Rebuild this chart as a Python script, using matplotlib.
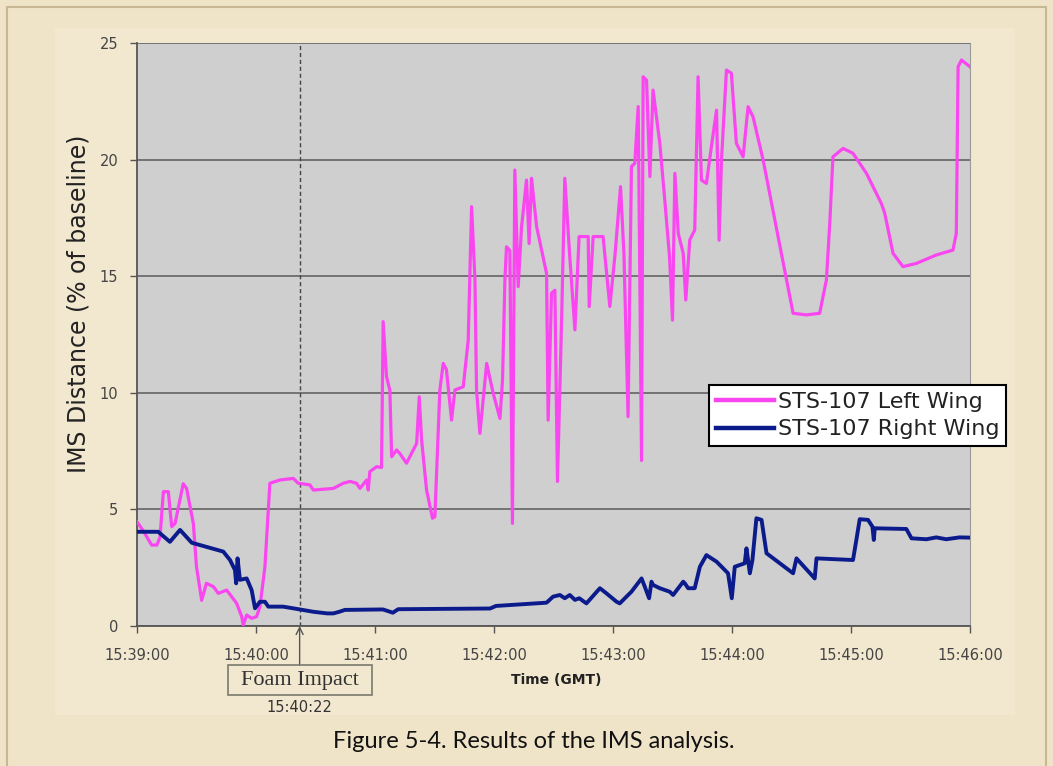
import matplotlib
matplotlib.use("Agg")
import matplotlib.pyplot as plt
from matplotlib.patches import Rectangle
import matplotlib.transforms as mtransforms

# ---------------- data (seconds after 15:39:00, % of baseline) ----------------
left_t = [0, 3, 7.4, 10, 11.6, 13.3, 15.8, 17.5, 19.2, 23.3, 25, 28.4, 30, 32.6, 35, 38.5,
          41, 45.2, 50.2, 52.8, 53.6, 55.3, 57.8, 60.3, 62, 64.5, 67, 72, 78.8, 81.3, 87.2,
          88.9, 99, 104, 107.4, 110.7, 112.4, 115.8, 116.6, 117.4, 120.8, 123.3, 124.1,
          125.8, 127.5, 128.4, 130.9, 132.5, 135.9, 141, 142.3, 143.5, 146, 149, 150.2,
          152.7, 154.4, 156, 158.6, 160.3, 164.5, 167, 168.7, 170.4, 171.2, 172.9, 176.3,
          179.6, 183, 184.3, 185.5, 186.3, 188, 189.3, 190.5, 192.2, 193.9, 196.4, 197.7,
          198.9, 201.5, 206.5, 207.3, 209, 210.7, 212, 214, 215.7, 218.2, 220.8, 222.9,
          227.5, 228, 230, 235, 238.4, 241, 243.8, 245.5, 247.6, 249.3, 251, 252.7, 254.4,
          255.2, 256.9, 258.6, 260.2, 263.6, 266.1, 268.5, 270, 271.2, 272.9, 275.4, 276.7,
          278.7, 281.2, 282.9, 284.6, 287.1, 289.6, 292.2, 293.5, 294.7, 297.2, 299.7,
          302.2, 305.6, 308.1, 310.6, 315.7, 330.8, 337.5, 344.2, 347.6, 349.3, 350.9, 356,
          361, 367.8, 375.3, 377, 381.2, 386.2, 393, 403, 411.4, 413.1, 414, 415.7, 420]
left_v = [4.47, 4.1, 3.47, 3.47, 3.8, 5.76, 5.76, 4.26, 4.4, 6.1, 5.9, 4.4, 2.54, 1.1, 1.83,
          1.69, 1.4, 1.54, 0.98, 0.4, 0.04, 0.47, 0.33, 0.4, 0.83, 2.54, 6.12, 6.26, 6.33,
          6.12, 6.05, 5.83, 5.9, 6.12, 6.2, 6.12, 5.9, 6.26, 5.83, 6.62, 6.83, 6.8, 13.05,
          10.7, 10.1, 7.26, 7.55, 7.4, 6.98, 7.83, 9.83, 7.98, 5.83, 4.62, 4.69, 10.12,
          11.26, 11.0, 8.83, 10.12, 10.26, 12.26, 17.98, 14.84, 10.12, 8.26, 11.26, 9.98,
          8.9, 10.55, 14.84, 16.26, 16.1, 4.4, 19.55, 14.55, 17.12, 19.12, 16.4, 19.2,
          17.12, 15.12, 8.83, 14.27, 14.4, 6.2, 12.8, 19.2, 15.84, 12.7, 16.7, 16.7, 13.7,
          16.7, 16.7, 13.7, 15.9, 18.84, 16.0, 8.98, 19.7, 19.84, 22.27, 7.1, 23.55, 23.41,
          19.27, 22.98, 20.7, 18.27, 15.84, 13.12, 19.41, 16.84, 15.98, 13.98, 16.55,
          16.98, 23.55, 19.12, 18.98, 20.55, 22.12, 16.55, 19.98, 23.84, 23.7, 20.7, 20.12,
          22.27, 21.84, 19.98, 13.41, 13.34, 13.41, 14.84, 17.27, 20.12, 20.48, 20.27,
          19.41, 18.12, 17.7, 15.98, 15.41, 15.55, 15.91, 16.12, 16.84, 23.98, 24.27, 23.98]

right_t = [0, 10.7, 16.6, 21.7, 27.6, 31.8, 43.5, 46.9, 49.4, 50, 50.7, 51.9, 55.3, 57.8,
           59.5, 62, 64.5, 66.2, 73.7, 82.1, 88.9, 96, 99, 102, 104.8, 124, 129, 131.7,
           178, 181, 206.5, 209.8, 213.2, 215.7, 218.2, 220.8, 223, 226.6, 233.4, 236.7,
           241.8, 243.4, 246.8, 249.3, 254.4, 256, 258.2, 259.4, 260.2, 263.6, 268.6,
           270.3, 275.4, 276.2, 277.9, 281.2, 283.8, 287.1, 292.2, 298, 299.9, 301.4,
           306.4, 307.3, 309, 310.3, 312.3, 314.9, 317.4, 330.8, 332.5, 341.7, 342.6, 361,
           362.7, 364.4, 368.6, 370.8, 371.5, 372, 387.9, 390.5, 398, 403, 408, 414.7, 420]
right_v = [4.04, 4.04, 3.61, 4.12, 3.57, 3.47, 3.19, 2.83, 2.4, 1.83, 2.9, 1.98, 2.04, 1.54,
           0.76, 1.04, 1.04, 0.83, 0.83, 0.71, 0.61, 0.54, 0.54, 0.61, 0.69, 0.71, 0.57,
           0.72, 0.75, 0.86, 1.0, 1.26, 1.33, 1.19, 1.33, 1.12, 1.19, 0.97, 1.62, 1.4, 1.04,
           0.97, 1.26, 1.47, 2.04, 1.69, 1.19, 1.9, 1.76, 1.62, 1.47, 1.33, 1.9, 1.83, 1.62,
           1.62, 2.54, 3.04, 2.76, 2.26, 1.19, 2.54, 2.69, 3.33, 2.26, 2.83, 4.62, 4.55,
           3.12, 2.26, 2.9, 2.04, 2.9, 2.83, 3.69, 4.58, 4.55, 4.26, 3.69, 4.19, 4.16, 3.76,
           3.72, 3.8, 3.72, 3.8, 3.79]

x_ticks = [0, 60, 120, 180, 240, 300, 360, 420]
x_tick_labels = ["15:39:00", "15:40:00", "15:41:00", "15:42:00",
                 "15:43:00", "15:44:00", "15:45:00", "15:46:00"]
y_ticks = [0, 5, 10, 15, 20, 25]
impact_t = 82
impact_name = "Foam Impact"
impact_label = "15:40:22"
series_names = ["STS-107 Left Wing", "STS-107 Right Wing"]

# ---------------- figure ----------------
W, H = 1053, 766
BG = "#F0E4C8"
fig = plt.figure(figsize=(W / 100, H / 100), dpi=100, facecolor=BG)

fig.patches.append(Rectangle((55 / W, 1 - 715 / H), (1015 - 55) / W, (715 - 28) / H,
                             transform=fig.transFigure, facecolor="#F2E7CF",
                             edgecolor="none", zorder=-2))
fig.patches.append(Rectangle((7 / W, -0.01), (1046 - 7) / W, (766 - 7) / H + 0.01,
                             transform=fig.transFigure, fill=False,
                             edgecolor="#C8B795", lw=1.5, zorder=-1))

ax = fig.add_axes([137 / W, 1 - 626 / H, (970 - 137) / W, (626 - 43) / H])
ax.set_facecolor("#CFCFCF")

ax.plot(left_t, left_v, color="#FA46F0", lw=2.3, label=series_names[0],
        solid_joinstyle="round", zorder=3)
ax.plot(right_t, right_v, color="#0B1B8C", lw=2.8, label=series_names[1],
        solid_joinstyle="round", zorder=4)

ax.set_xlim(x_ticks[0], x_ticks[-1])
ax.set_ylim(y_ticks[0], y_ticks[-1])
ax.set_xticks(x_ticks)
ax.set_xticklabels(x_tick_labels)
ax.set_yticks(y_ticks)

ax.yaxis.grid(True, color="#6C6C6C", lw=1.3)
ax.set_axisbelow(True)
ax.spines["top"].set_visible(False)
ax.spines["right"].set_color("#9A9A9A")
ax.spines["right"].set_linewidth(0.8)
for side in ["left", "bottom"]:
    ax.spines[side].set_color("#555555")
    ax.spines[side].set_linewidth(1.3)

ax.tick_params(axis="x", direction="out", length=5, width=1, color="#555555",
               pad=11, labelsize=10.5, labelcolor="#444444")
ax.tick_params(axis="y", direction="out", length=5, width=1, color="#555555",
               pad=8.5, labelsize=10.5, labelcolor="#444444")

# foam impact marker
ax.axvline(impact_t, color="#444444", lw=1, ls=(0, (3, 2)), zorder=2)
trans = mtransforms.blended_transform_factory(ax.transData, ax.transAxes)
ax.annotate("", xy=(impact_t, 0), xycoords=trans,
            xytext=(impact_t, -(665 - 626) / 583), textcoords=trans,
            arrowprops=dict(arrowstyle="->,head_length=0.5,head_width=0.25",
                            color="#555555", lw=1, shrinkA=0, shrinkB=0),
            annotation_clip=False)
ax.text(impact_t, -(680 - 626) / 583, impact_name, transform=trans, ha="center",
        va="center", family="Liberation Serif", fontsize=16, color="#333333")
fig.patches.append(Rectangle((228 / W, 1 - 695 / H), 144 / W, 30 / H,
                             transform=fig.transFigure, fill=False,
                             edgecolor="#7A7A6E", lw=1.2))
ax.text(impact_t, -(707 - 626) / 583, impact_label, transform=trans, ha="center",
        va="center", fontsize=10.5, color="#333333")

# labels
fig.text(79 / W, 1 - 304 / H, "IMS Distance (% of baseline)", rotation=90,
         ha="center", va="center", fontsize=17, color="#222222")
fig.text(556 / W, 1 - 680 / H, "Time (GMT)", ha="center", va="center",
         fontsize=10, fontweight="bold", color="#222222")
fig.text(534 / W, 1 - 742 / H, "Figure 5-4. Results of the IMS analysis.",
         ha="center", va="center", fontsize=17, family="Lato", color="#111111")

# legend
leg = ax.legend(loc="upper left", bbox_to_anchor=(709 / W, 1 - 385 / H),
                bbox_transform=fig.transFigure, fontsize=16, handlelength=2.64,
                handletextpad=0.15, borderpad=0.3, labelspacing=0.35,
                frameon=True, fancybox=False, framealpha=1, edgecolor="black",
                borderaxespad=0)
leg.get_frame().set_linewidth(1.5)
leg.set_zorder(10)
for ln in leg.get_lines():
    ln.set_linewidth(3.2)
for t in leg.get_texts():
    t.set_color("#222222")

fig.savefig("out.png", dpi=100, facecolor=BG)
